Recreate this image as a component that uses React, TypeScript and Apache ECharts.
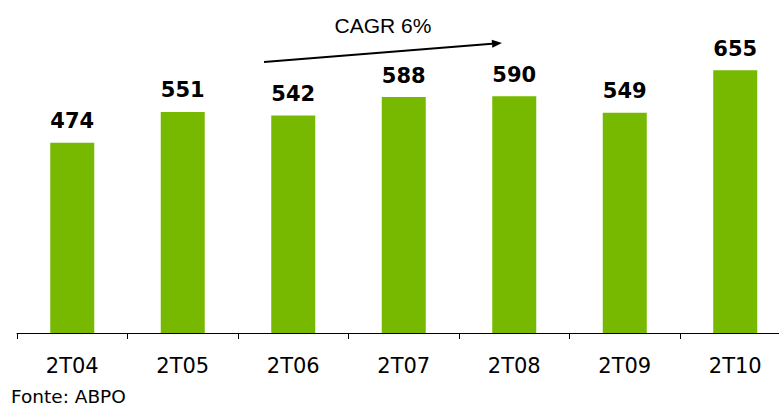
import React, { useEffect, useRef } from "react";
import * as echarts from "echarts";

const categories = ["2T04", "2T05", "2T06", "2T07", "2T08", "2T09", "2T10"];
const values = [474, 551, 542, 588, 590, 549, 655];
const cagrLabel = "CAGR 6%";
const sourceLabel = "Fonte: ABPO";

export default function App() {
  const ref = useRef<HTMLDivElement>(null);
  useEffect(() => {
    if (!ref.current) return;
    const chart = echarts.init(ref.current, null, { renderer: "svg" });
    const tip = [502, 43];
    const start = [264, 62];
    const dx = tip[0] - start[0];
    const dy = tip[1] - start[1];
    const len = Math.sqrt(dx * dx + dy * dy);
    const ux = dx / len;
    const uy = dy / len;
    const headLen = 10;
    const headHalf = 4;
    const bx = tip[0] - ux * headLen;
    const by = tip[1] - uy * headLen;
    const px = -uy;
    const py = ux;
    chart.setOption({
      animation: false,
      grid: { left: 17, width: 773.5, top: 12, height: 321, containLabel: false },
      xAxis: {
        type: "category",
        data: categories,
        boundaryGap: true,
        axisLine: { lineStyle: { color: "#000", width: 1 } },
        axisTick: { show: true, length: 6, lineStyle: { color: "#000" } },
        axisLabel: {
          margin: 22,
          fontFamily: "DejaVu Sans",
          fontSize: 21,
          color: "#000",
        },
      },
      yAxis: {
        type: "value",
        min: 0,
        max: 800,
        show: false,
        splitLine: { show: false },
      },
      series: [
        {
          type: "bar",
          data: values,
          barWidth: 44,
          itemStyle: { color: "#76B900" },
          label: {
            show: true,
            position: "top",
            distance: 11,
            fontFamily: "DejaVu Sans",
            fontWeight: "bold",
            fontSize: 21,
            color: "#000",
          },
        },
      ],
      graphic: [
        {
          type: "text",
          left: 11,
          top: 387,
          style: {
            text: sourceLabel,
            fontFamily: "DejaVu Sans",
            fontSize: 18.5,
            fill: "#000",
          },
        },
        {
          type: "text",
          x: 383,
          y: 25,
          style: {
            text: cagrLabel,
            fontFamily: "Liberation Sans",
            fontSize: 21,
            fill: "#000",
            align: "center",
            verticalAlign: "middle",
          },
        },
        {
          type: "line",
          shape: { x1: start[0], y1: start[1], x2: bx, y2: by },
          style: { stroke: "#000", lineWidth: 2 },
        },
        {
          type: "polygon",
          shape: {
            points: [
              [tip[0], tip[1]],
              [bx + px * headHalf, by + py * headHalf],
              [bx - px * headHalf, by - py * headHalf],
            ],
          },
          style: { fill: "#000" },
        },
      ],
    });
    return () => chart.dispose();
  }, []);
  return (
    <div
      style={{
        position: "absolute",
        left: 0,
        top: 0,
        width: 779,
        height: 406,
        overflow: "hidden",
        background: "#fff",
      }}
    >
      <div ref={ref} style={{ width: 800, height: 406 }} />
    </div>
  );
}
